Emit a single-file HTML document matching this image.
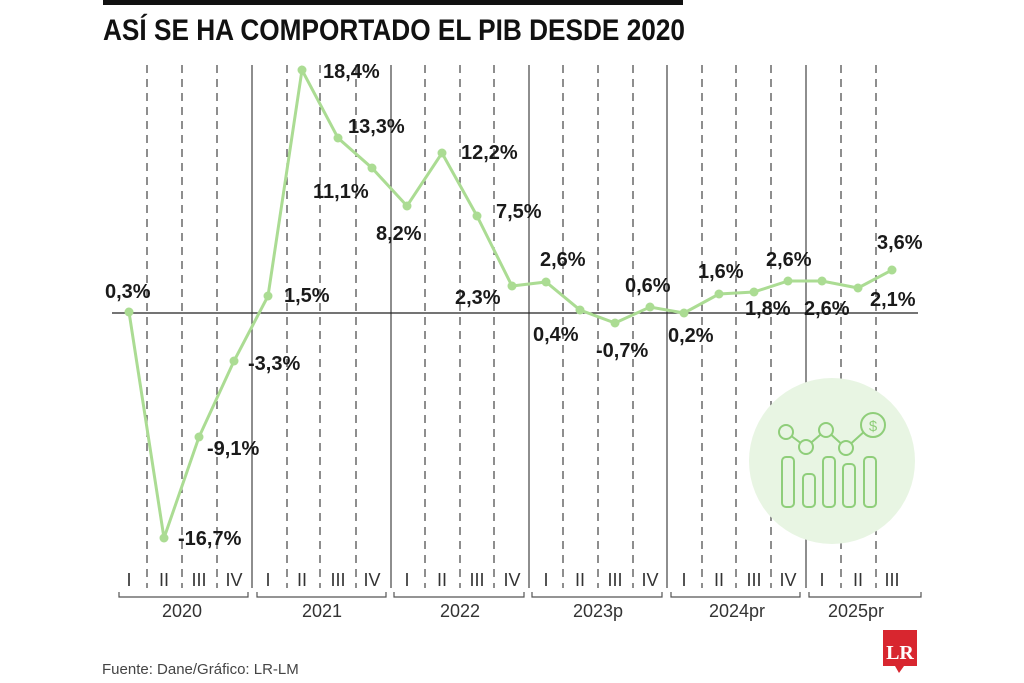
<!DOCTYPE html>
<html><head><meta charset="utf-8"><style>
body{margin:0;background:#fff;}
svg{display:block}
.l{font-family:"Liberation Sans",sans-serif;font-weight:bold;font-size:20px;fill:#1a1a1a}
.q{font-family:"Liberation Sans",sans-serif;font-size:18px;fill:#333}
</style></head><body>
<svg width="1024" height="683" viewBox="0 0 1024 683">
<rect x="103" y="0" width="580" height="5" fill="#111"/>
<text x="103" y="40" font-family="Liberation Sans,sans-serif" font-weight="bold" font-size="30" fill="#111" textLength="582" lengthAdjust="spacingAndGlyphs">ASÍ SE HA COMPORTADO EL PIB DESDE 2020</text>
<g stroke="#444" stroke-width="1.2" stroke-dasharray="8,6">
<line x1="147" y1="65" x2="147" y2="588"/><line x1="182" y1="65" x2="182" y2="588"/><line x1="217" y1="65" x2="217" y2="588"/>
<line x1="287" y1="65" x2="287" y2="588"/><line x1="320" y1="65" x2="320" y2="588"/><line x1="356" y1="65" x2="356" y2="588"/>
<line x1="425" y1="65" x2="425" y2="588"/><line x1="460" y1="65" x2="460" y2="588"/><line x1="494" y1="65" x2="494" y2="588"/>
<line x1="563" y1="65" x2="563" y2="588"/><line x1="598" y1="65" x2="598" y2="588"/><line x1="633" y1="65" x2="633" y2="588"/>
<line x1="702" y1="65" x2="702" y2="588"/><line x1="736" y1="65" x2="736" y2="588"/><line x1="771" y1="65" x2="771" y2="588"/>
<line x1="841" y1="65" x2="841" y2="588"/><line x1="876" y1="65" x2="876" y2="588"/>
</g>
<g stroke="#444" stroke-width="1.2">
<line x1="252" y1="65" x2="252" y2="588"/><line x1="391" y1="65" x2="391" y2="588"/><line x1="529" y1="65" x2="529" y2="588"/><line x1="667" y1="65" x2="667" y2="588"/><line x1="806" y1="65" x2="806" y2="588"/>
<line x1="112" y1="313" x2="918" y2="313" stroke="#222"/>
</g>
<circle cx="832" cy="461" r="83" fill="#e8f5e3"/>
<g fill="none" stroke="#8fce7a" stroke-width="2">
<path d="M786 432 L806 447 L826 430 L846 448 L866 430"/>
<circle cx="786" cy="432" r="7" fill="#e8f5e3"/><circle cx="806" cy="447" r="7" fill="#e8f5e3"/><circle cx="826" cy="430" r="7" fill="#e8f5e3"/><circle cx="846" cy="448" r="7" fill="#e8f5e3"/><circle cx="873" cy="425" r="12" fill="#e8f5e3"/>
<rect x="782" y="457" width="12" height="50" rx="4"/><rect x="803" y="474" width="12" height="33" rx="4"/><rect x="823" y="457" width="12" height="50" rx="4"/><rect x="843" y="464" width="12" height="43" rx="4"/><rect x="864" y="457" width="12" height="50" rx="4"/>
</g>
<text x="873" y="431" font-family="Liberation Sans,sans-serif" font-size="15" fill="#8fce7a" text-anchor="middle">$</text>
<polyline fill="none" stroke="#add f94" stroke-width="3" points="129,312 164,538 199,437 234,361 268,296 302,70 338,138 372,168 407,206 442,153 477,216 512,286 546,282 580,310 615,323 650,307 684,313 719,294 754,292 788,281 822,281 858,288 892,270" style="stroke:#abdc93"/>
<g fill="#abdc93">
<circle cx="129" cy="312" r="4.5"/><circle cx="164" cy="538" r="4.5"/><circle cx="199" cy="437" r="4.5"/><circle cx="234" cy="361" r="4.5"/><circle cx="268" cy="296" r="4.5"/><circle cx="302" cy="70" r="4.5"/><circle cx="338" cy="138" r="4.5"/><circle cx="372" cy="168" r="4.5"/><circle cx="407" cy="206" r="4.5"/><circle cx="442" cy="153" r="4.5"/><circle cx="477" cy="216" r="4.5"/><circle cx="512" cy="286" r="4.5"/><circle cx="546" cy="282" r="4.5"/><circle cx="580" cy="310" r="4.5"/><circle cx="615" cy="323" r="4.5"/><circle cx="650" cy="307" r="4.5"/><circle cx="684" cy="313" r="4.5"/><circle cx="719" cy="294" r="4.5"/><circle cx="754" cy="292" r="4.5"/><circle cx="788" cy="281" r="4.5"/><circle cx="822" cy="281" r="4.5"/><circle cx="858" cy="288" r="4.5"/><circle cx="892" cy="270" r="4.5"/>
</g>
<g class="l">
<text x="105" y="298">0,3%</text><text x="178" y="545">-16,7%</text><text x="207" y="455">-9,1%</text><text x="248" y="370">-3,3%</text>
<text x="284" y="302">1,5%</text><text x="323" y="78">18,4%</text><text x="348" y="133">13,3%</text><text x="313" y="198">11,1%</text>
<text x="376" y="240">8,2%</text><text x="461" y="159">12,2%</text><text x="496" y="218">7,5%</text><text x="455" y="304">2,3%</text>
<text x="540" y="266">2,6%</text><text x="533" y="341">0,4%</text><text x="596" y="357">-0,7%</text><text x="625" y="292">0,6%</text>
<text x="668" y="342">0,2%</text><text x="698" y="278">1,6%</text><text x="745" y="315">1,8%</text><text x="766" y="266">2,6%</text>
<text x="804" y="315">2,6%</text><text x="870" y="306">2,1%</text><text x="877" y="249">3,6%</text>
</g>
<g class="q" text-anchor="middle">
<text x="129" y="586">I</text><text x="164" y="586">II</text><text x="199" y="586">III</text><text x="234" y="586">IV</text>
<text x="268" y="586">I</text><text x="302" y="586">II</text><text x="338" y="586">III</text><text x="372" y="586">IV</text>
<text x="407" y="586">I</text><text x="442" y="586">II</text><text x="477" y="586">III</text><text x="512" y="586">IV</text>
<text x="546" y="586">I</text><text x="580" y="586">II</text><text x="615" y="586">III</text><text x="650" y="586">IV</text>
<text x="684" y="586">I</text><text x="719" y="586">II</text><text x="754" y="586">III</text><text x="788" y="586">IV</text>
<text x="822" y="586">I</text><text x="858" y="586">II</text><text x="892" y="586">III</text>
<text x="182" y="617">2020</text><text x="322" y="617">2021</text><text x="460" y="617">2022</text><text x="598" y="617">2023p</text><text x="737" y="617">2024pr</text><text x="856" y="617">2025pr</text>
</g>
<g fill="none" stroke="#555" stroke-width="1.2">
<path d="M119 592 V597 H248 V592"/><path d="M257 592 V597 H386 V592"/><path d="M394 592 V597 H524 V592"/><path d="M532 592 V597 H662 V592"/><path d="M671 592 V597 H800 V592"/><path d="M809 592 V597 H921 V592"/>
</g>
<text x="102" y="674" font-family="Liberation Sans,sans-serif" font-size="15" fill="#444">Fuente: Dane/Gráfico: LR-LM</text>
<path d="M883 630 H917 V666 H904 L899 673 L895 666 H883 Z" fill="#d8262f"/>
<text x="900" y="659" font-family="Liberation Serif,serif" font-weight="bold" font-size="20" fill="#fff" text-anchor="middle">LR</text>
</svg>
</body></html>
